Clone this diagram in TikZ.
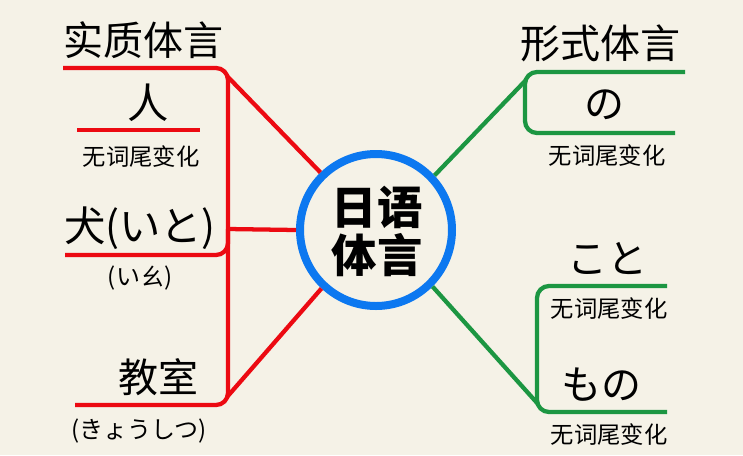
\documentclass[tikz,border=0pt]{standalone}
\usepackage{fontspec}
\setmainfont{Noto Sans CJK SC}
\begin{document}
\begin{tikzpicture}[x=0.75pt,y=-0.75pt]
\definecolor{paper}{RGB}{245,242,231}
\definecolor{redline}{RGB}{236,10,18}
\definecolor{greenline}{RGB}{28,150,66}
\definecolor{ringblue}{RGB}{12,120,240}
\tikzset{
  big/.style={inner sep=0pt, font=\fontsize{30}{32}\selectfont},
  small/.style={inner sep=0pt, font=\fontsize{17.5}{19}\selectfont},
  ruby/.style={inner sep=0pt, font=\fontsize{18}{20}\selectfont},
  redl/.style={draw=redline, line width=3.2pt, rounded corners=9pt},
  greenl/.style={draw=greenline, line width=3.2pt, rounded corners=9pt},
}
\fill[paper] (0,0) rectangle (743,455);
\useasboundingbox (0,0) rectangle (743,455);

% centre
\node[circle, draw=ringblue, line width=6pt, minimum size=114pt, inner sep=0pt] (hub) at (376,230) {};
\node[inner sep=0pt, align=center, font=\fontsize{34}{34}\bfseries\selectfont] (hubtext) at (377,231) {日语\\[2pt]体言};

% left texts
\node[big] (shizhi) at (143,40) {实质体言};
\node[big, font=\fontsize{31}{33}\selectfont] (ren) at (148,103) {人};
\node[small] (renn) at (141,157) {无词尾变化};
\node[big, font=\fontsize{31}{33}\selectfont] (inu) at (140,228) {犬(いと)};
\node[ruby] (inur) at (140,278) {(いㄠ)};
\node[big] (kyo) at (158,377) {教室};
\node[ruby] (kyor) at (139,431) {(きょうしつ)};

% right texts
\node[big] (xingshi) at (600,43) {形式体言};
\node[big] (no) at (604,105) {の};
\node[small] (non) at (607,156) {无词尾变化};
\node[big] (koto) at (607,258) {こと};
\node[small] (koton) at (609,309) {无词尾变化};
\node[big] (mono) at (601,385) {もの};
\node[small] (monon) at (609,435) {无词尾变化};

% red coordinates
\coordinate (lt0) at (63,68);
\coordinate (ltc) at (228,68);
\coordinate (ltv) at (227,76);
\coordinate (lb0) at (75,405);
\coordinate (lbc) at (228,405);
\coordinate (lbv) at (227,397);
\coordinate (lm) at (228,229);
\coordinate (lu0) at (65,255);
\coordinate (luc) at (228,255);
\coordinate (ru0) at (77,130);
\coordinate (ru1) at (200,130);

\draw[redl] (lt0) -- (ltc) -- (lbc) -- (lb0);
\draw[redl, rounded corners=0pt] (ltv) -- (hub.134);
\draw[redl, rounded corners=0pt] (lbv) -- (hub.-133);
\draw[redl, rounded corners=0pt] (lm) -- (hub.180);
\draw[redl] (lu0) -- (luc) -- (lm);
\draw[redl, rounded corners=0pt] (ru0) -- (ru1);

% green coordinates
\coordinate (gtc) at (525,72);
\coordinate (gtv) at (526,80);
\coordinate (gt1) at (685,72);
\coordinate (gtb) at (525,133);
\coordinate (gt2) at (675,133);
\coordinate (gbc) at (537,412);
\coordinate (gbv) at (538,404);
\coordinate (gb1) at (667,412);
\coordinate (gbt) at (537,286);
\coordinate (gb2) at (667,286);

\draw[greenl] (gt1) -- (gtc) -- (gtb) -- (gt2);
\draw[greenl, rounded corners=0pt] (hub.43) -- (gtv);
\draw[greenl] (gb2) -- (gbt) -- (gbc) -- (gb1);
\draw[greenl, rounded corners=0pt] (hub.-45) -- (gbv);
\end{tikzpicture}
\end{document}
